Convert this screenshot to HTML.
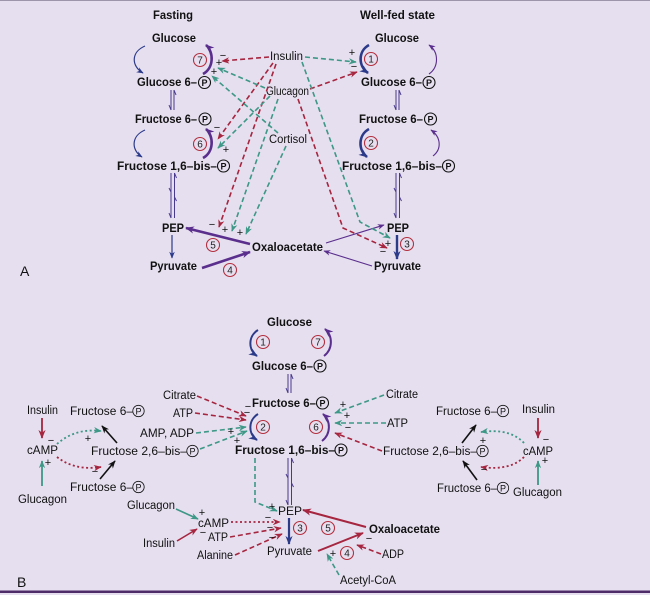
<!DOCTYPE html>
<html><head><meta charset="utf-8"><style>
html,body{margin:0;padding:0;background:#e6dfef;}
svg{display:block;}
text{font-family:"Liberation Sans",Arial,sans-serif;fill:#111;}
.b{font-weight:bold;font-size:11.5px;}
.r{font-size:11.5px;}
.pt{font-size:9px;font-weight:bold;text-anchor:middle;}
.ptr{font-size:9px;text-anchor:middle;}
.pc{fill:none;stroke:#111;stroke-width:1.1;}
.pcr{fill:none;stroke:#111;stroke-width:0.8;}
.nc{fill:none;stroke:#b3303f;stroke-width:1.1;}
.nt{font-size:10px;text-anchor:middle;fill:#222;}
.sg{font-size:11px;text-anchor:middle;fill:#111;}
.dr{fill:none;stroke:#a6253f;stroke-width:1.6;stroke-dasharray:5,3;}
.dt{fill:none;stroke:#3d9887;stroke-width:1.6;stroke-dasharray:5,3;}
.or{fill:none;stroke:#a6253f;stroke-width:1.8;stroke-dasharray:2,2.5;}
.ot{fill:none;stroke:#3d9887;stroke-width:1.8;stroke-dasharray:2,2.5;}
</style></head><body>
<svg width="650" height="595" viewBox="0 0 650 595" xmlns="http://www.w3.org/2000/svg">
<defs>
<marker id="mR" viewBox="0 0 10 8" refX="9" refY="4" markerWidth="8" markerHeight="6.4" markerUnits="userSpaceOnUse" orient="auto"><path d="M0,0 L10,4 L0,8 L3,4 z" fill="#a6253f"/></marker>
<marker id="mT" viewBox="0 0 10 8" refX="9" refY="4" markerWidth="8" markerHeight="6.4" markerUnits="userSpaceOnUse" orient="auto"><path d="M0,0 L10,4 L0,8 L3,4 z" fill="#3d9887"/></marker>
<marker id="mN" viewBox="0 0 10 8" refX="9" refY="4" markerWidth="7" markerHeight="5.6" markerUnits="userSpaceOnUse" orient="auto"><path d="M0,0 L10,4 L0,8 L3,4 z" fill="#2c3a8a"/></marker>
<marker id="mNb" viewBox="0 0 10 8" refX="9" refY="4" markerWidth="9" markerHeight="7.2" markerUnits="userSpaceOnUse" orient="auto"><path d="M0,0 L10,4 L0,8 L3,4 z" fill="#2c3a8a"/></marker>
<marker id="mP" viewBox="0 0 10 8" refX="9" refY="4" markerWidth="7" markerHeight="5.6" markerUnits="userSpaceOnUse" orient="auto"><path d="M0,0 L10,4 L0,8 L3,4 z" fill="#5a2e8c"/></marker>
<marker id="mPb" viewBox="0 0 10 8" refX="9" refY="4" markerWidth="9" markerHeight="7.2" markerUnits="userSpaceOnUse" orient="auto"><path d="M0,0 L10,4 L0,8 L3,4 z" fill="#5a2e8c"/></marker>
<marker id="mRb" viewBox="0 0 10 8" refX="9" refY="4" markerWidth="9" markerHeight="7.2" markerUnits="userSpaceOnUse" orient="auto"><path d="M0,0 L10,4 L0,8 L3,4 z" fill="#a6253f"/></marker>
<marker id="mK" viewBox="0 0 10 8" refX="9" refY="4" markerWidth="8" markerHeight="6.4" markerUnits="userSpaceOnUse" orient="auto"><path d="M0,0 L10,4 L0,8 L3,4 z" fill="#111"/></marker>
</defs>
<rect x="0" y="0" width="650" height="595" fill="#e6dfef"/>
<line x1="0" y1="0.5" x2="650" y2="0.5" stroke="#9d96ab" stroke-width="1"/>
<rect x="0" y="590.5" width="650" height="2.5" fill="#4d2c68"/>

<!-- ============ PANEL A ============ -->
<text x="153" y="19" class="b" textLength="40" lengthAdjust="spacingAndGlyphs">Fasting</text>
<text x="360" y="19" class="b" textLength="75" lengthAdjust="spacingAndGlyphs">Well-fed state</text>

<!-- left column -->
<text x="152" y="42" class="b" textLength="44" lengthAdjust="spacingAndGlyphs">Glucose</text>
<text x="137" y="86" class="b" textLength="60" lengthAdjust="spacingAndGlyphs">Glucose 6–</text>
<circle cx="204.5" cy="82.5" r="6" class="pc"/><text x="204.5" y="86" class="pt">P</text>
<text x="135" y="123" class="b" textLength="62" lengthAdjust="spacingAndGlyphs">Fructose 6–</text>
<circle cx="205" cy="119" r="6" class="pc"/><text x="205" y="122.5" class="pt">P</text>
<text x="117" y="170" class="b" textLength="100" lengthAdjust="spacingAndGlyphs">Fructose 1,6–bis–</text>
<circle cx="223.5" cy="166" r="6" class="pc"/><text x="223.5" y="169.5" class="pt">P</text>
<text x="162" y="232" class="b" textLength="22" lengthAdjust="spacingAndGlyphs">PEP</text>
<text x="150" y="270" class="b" textLength="47" lengthAdjust="spacingAndGlyphs">Pyruvate</text>
<text x="252" y="251" class="b" textLength="71" lengthAdjust="spacingAndGlyphs">Oxaloacetate</text>
<text x="20" y="276" style="font-size:14px">A</text>

<!-- left arcs -->
<path d="M145,46 C131,52 131,66 143,73" fill="none" stroke="#2c3a8a" stroke-width="1.2" marker-end="url(#mN)"/>
<path d="M203,74 C214,68 214,52 206,45" fill="none" stroke="#5a2e8c" stroke-width="2.6" marker-end="url(#mPb)"/>
<path d="M145,130 C131,136 131,150 142,157" fill="none" stroke="#2c3a8a" stroke-width="1.2" marker-end="url(#mN)"/>
<path d="M203,158 C214,152 214,136 206,129" fill="none" stroke="#5a2e8c" stroke-width="2.6" marker-end="url(#mPb)"/>
<!-- equilibrium -->
<g stroke="#4a3a8e" stroke-width="1" fill="none">
<line x1="171" y1="90" x2="171" y2="110"/><path d="M171,110 L169,105"/>
<line x1="174" y1="110" x2="174" y2="90"/><path d="M174,90 L176,95"/>
<line x1="171" y1="173" x2="171" y2="218"/><path d="M171,218 L169,213"/><path d="M171,192 L169,188"/>
<line x1="174.5" y1="218" x2="174.5" y2="173"/><path d="M174.5,173 L176.5,178"/><path d="M174.5,197 L176.5,201"/>
</g>
<line x1="172" y1="235" x2="172" y2="258" stroke="#2c3a8a" stroke-width="1.2" marker-end="url(#mN)"/>
<line x1="250" y1="244" x2="186" y2="228" stroke="#5a2e8c" stroke-width="2.6" marker-end="url(#mPb)"/>
<line x1="202" y1="268" x2="250" y2="252" stroke="#5a2e8c" stroke-width="2.6" marker-end="url(#mPb)"/>

<!-- numbers left -->
<circle cx="200" cy="60" r="6.5" class="nc"/><text x="200" y="63.5" class="nt">7</text>
<circle cx="200" cy="144" r="6.5" class="nc"/><text x="200" y="147.5" class="nt">6</text>
<circle cx="213" cy="245" r="6.5" class="nc"/><text x="213" y="248.5" class="nt">5</text>
<circle cx="230" cy="270" r="6.5" class="nc"/><text x="230" y="273.5" class="nt">4</text>

<!-- right column -->
<text x="375" y="42" class="b" textLength="44" lengthAdjust="spacingAndGlyphs">Glucose</text>
<text x="361" y="86" class="b" textLength="61" lengthAdjust="spacingAndGlyphs">Glucose 6–</text>
<circle cx="429" cy="82.5" r="6" class="pc"/><text x="429" y="86" class="pt">P</text>
<text x="359" y="123" class="b" textLength="64" lengthAdjust="spacingAndGlyphs">Fructose 6–</text>
<circle cx="430.5" cy="119" r="6" class="pc"/><text x="430.5" y="122.5" class="pt">P</text>
<text x="342" y="170" class="b" textLength="100" lengthAdjust="spacingAndGlyphs">Fructose 1,6–bis–</text>
<circle cx="448.5" cy="166" r="6" class="pc"/><text x="448.5" y="169.5" class="pt">P</text>
<text x="387" y="232" class="b" textLength="22" lengthAdjust="spacingAndGlyphs">PEP</text>
<text x="374" y="270" class="b" textLength="47" lengthAdjust="spacingAndGlyphs">Pyruvate</text>

<path d="M369,45 C358,51 358,66 368,73" fill="none" stroke="#2c3a8a" stroke-width="2.6" marker-end="url(#mNb)"/>
<path d="M429,74 C439,67 439,52 429,45" fill="none" stroke="#5a2e8c" stroke-width="1.1" marker-end="url(#mP)"/>
<path d="M369,129 C358,135 358,150 367,157" fill="none" stroke="#2c3a8a" stroke-width="2.6" marker-end="url(#mNb)"/>
<path d="M433,156 C442,149 441,137 431,130" fill="none" stroke="#5a2e8c" stroke-width="1.1" marker-end="url(#mP)"/>
<g stroke="#4a3a8e" stroke-width="1" fill="none">
<line x1="396" y1="90" x2="396" y2="110"/><path d="M396,110 L394,105"/>
<line x1="399" y1="110" x2="399" y2="90"/><path d="M399,90 L401,95"/>
<line x1="396" y1="173" x2="396" y2="218"/><path d="M396,218 L394,213"/><path d="M396,192 L394,188"/>
<line x1="399.5" y1="218" x2="399.5" y2="173"/><path d="M399.5,173 L401.5,178"/><path d="M399.5,197 L401.5,201"/>
</g>
<line x1="397" y1="235" x2="397" y2="259" stroke="#2c3a8a" stroke-width="2.4" marker-end="url(#mNb)"/>
<line x1="326" y1="243" x2="384" y2="225" stroke="#5a2e8c" stroke-width="1.1" marker-end="url(#mP)"/>
<line x1="372" y1="266" x2="324" y2="251" stroke="#5a2e8c" stroke-width="1.1" marker-end="url(#mP)"/>

<circle cx="371" cy="59" r="6.5" class="nc"/><text x="371" y="62.5" class="nt">1</text>
<circle cx="371" cy="143" r="6.5" class="nc"/><text x="371" y="146.5" class="nt">2</text>
<circle cx="407" cy="244" r="6.5" class="nc"/><text x="407" y="247.5" class="nt">3</text>

<!-- regulators A -->
<text x="270" y="60" class="r" textLength="33" lengthAdjust="spacingAndGlyphs">Insulin</text>
<text x="266" y="95" class="r" textLength="43" lengthAdjust="spacingAndGlyphs">Glucagon</text>
<text x="269" y="143" class="r" textLength="38" lengthAdjust="spacingAndGlyphs">Cortisol</text>

<!-- red dashed A -->
<path d="M269,57 L222,61" class="dr" marker-end="url(#mR)"/>
<path d="M273,63 L218,139" class="dr" marker-end="url(#mR)"/>
<path d="M276,64 L219,227" class="dr" marker-end="url(#mR)"/>
<path d="M310,89 L357,72" class="dr" marker-end="url(#mR)"/>
<path d="M298,99 L343,228 L387,248" class="dr" marker-end="url(#mR)"/>
<!-- teal dashed A -->
<path d="M305,57 L356,62" class="dt" marker-end="url(#mT)"/>
<path d="M265,88 L218,68" class="dt" marker-end="url(#mT)"/>
<path d="M278,133 L212,76" class="dt" marker-end="url(#mT)"/>
<path d="M270,96 L218,148" class="dt" marker-end="url(#mT)"/>
<path d="M278,99 L232,231" class="dt" marker-end="url(#mT)"/>
<path d="M286,146 L246,234" class="dt" marker-end="url(#mT)"/>
<path d="M302,62 L360,222 L390,238" class="dt" marker-end="url(#mT)"/>
<!-- signs A -->
<text x="223" y="59" class="sg">−</text>
<text x="219" y="66" class="sg">+</text>
<text x="214" y="75" class="sg">+</text>
<text x="217" y="131" class="sg">−</text>
<text x="226" y="153" class="sg">+</text>
<text x="212" y="228" class="sg">−</text>
<text x="225" y="233" class="sg">+</text>
<text x="240" y="236" class="sg">+</text>
<text x="352" y="56" class="sg">+</text>
<text x="354" y="70" class="sg">−</text>
<text x="388" y="247" class="sg">+</text>
<text x="383" y="255" class="sg">−</text>

<!-- ============ PANEL B ============ -->
<text x="267" y="326" class="b" textLength="45" lengthAdjust="spacingAndGlyphs">Glucose</text>
<text x="252" y="370" class="b" textLength="61" lengthAdjust="spacingAndGlyphs">Glucose 6–</text>
<circle cx="320" cy="366" r="6" class="pc"/><text x="320" y="369.5" class="pt">P</text>
<text x="252" y="407" class="b" textLength="64" lengthAdjust="spacingAndGlyphs">Fructose 6–</text>
<circle cx="322.5" cy="403" r="6" class="pc"/><text x="322.5" y="406.5" class="pt">P</text>
<text x="235" y="454" class="b" textLength="100" lengthAdjust="spacingAndGlyphs">Fructose 1,6–bis–</text>
<circle cx="341" cy="450" r="6" class="pc"/><text x="341" y="453.5" class="pt">P</text>
<text x="278" y="515" class="r" textLength="24" lengthAdjust="spacingAndGlyphs">PEP</text>
<text x="267" y="555" class="r" textLength="45" lengthAdjust="spacingAndGlyphs">Pyruvate</text>
<text x="369" y="533" class="b" textLength="71" lengthAdjust="spacingAndGlyphs">Oxaloacetate</text>
<text x="17" y="587" style="font-size:14px">B</text>

<path d="M258,330 C248,336 248,350 257,356" fill="none" stroke="#2c3a8a" stroke-width="2" marker-end="url(#mNb)"/>
<path d="M324,356 C333,349 333,336 325,329" fill="none" stroke="#5a2e8c" stroke-width="2" marker-end="url(#mPb)"/>
<path d="M258,414 C248,420 248,434 257,440" fill="none" stroke="#2c3a8a" stroke-width="2" marker-end="url(#mNb)"/>
<path d="M322,441 C331,434 331,421 323,414" fill="none" stroke="#5a2e8c" stroke-width="2" marker-end="url(#mPb)"/>
<g stroke="#4a3a8e" stroke-width="1" fill="none">
<line x1="288" y1="374" x2="288" y2="393"/><path d="M288,393 L286,388"/>
<line x1="291" y1="393" x2="291" y2="374"/><path d="M291,374 L293,379"/>
<line x1="288" y1="458" x2="288" y2="505"/><path d="M288,505 L286,500"/><path d="M288,478 L286,474"/>
<line x1="291.5" y1="505" x2="291.5" y2="458"/><path d="M291.5,458 L293.5,463"/><path d="M291.5,483 L293.5,487"/>
</g>
<line x1="289" y1="518" x2="289" y2="544" stroke="#2c3a8a" stroke-width="2.2" marker-end="url(#mNb)"/>
<line x1="366" y1="527" x2="303" y2="510" stroke="#a6253f" stroke-width="2" marker-end="url(#mRb)"/>
<line x1="318" y1="551" x2="363" y2="533" stroke="#a6253f" stroke-width="2" marker-end="url(#mRb)"/>

<circle cx="263" cy="342" r="6.5" class="nc"/><text x="263" y="345.5" class="nt">1</text>
<circle cx="318" cy="342" r="6.5" class="nc"/><text x="318" y="345.5" class="nt">7</text>
<circle cx="263" cy="427" r="6.5" class="nc"/><text x="263" y="430.5" class="nt">2</text>
<circle cx="316" cy="427" r="6.5" class="nc"/><text x="316" y="430.5" class="nt">6</text>
<circle cx="300" cy="528" r="6.5" class="nc"/><text x="300" y="531.5" class="nt">3</text>
<circle cx="328" cy="528" r="6.5" class="nc"/><text x="328" y="531.5" class="nt">5</text>
<circle cx="347" cy="553" r="6.5" class="nc"/><text x="347" y="556.5" class="nt">4</text>

<!-- B center-left effectors -->
<text x="163" y="399" class="r" textLength="33" lengthAdjust="spacingAndGlyphs">Citrate</text>
<text x="173" y="417" class="r" textLength="20" lengthAdjust="spacingAndGlyphs">ATP</text>
<text x="140" y="437" class="r" textLength="54" lengthAdjust="spacingAndGlyphs">AMP, ADP</text>
<text x="91" y="455" class="r" textLength="96" lengthAdjust="spacingAndGlyphs">Fructose 2,6–bis–</text>
<circle cx="192.5" cy="451" r="5.7" class="pcr"/><text x="192.5" y="454.5" class="ptr">P</text>
<path d="M197,396 L246,416" class="dr" marker-end="url(#mR)"/>
<path d="M195,413 L246,420" class="dr" marker-end="url(#mR)"/>
<path d="M196,433 L246,427" class="dt" marker-end="url(#mT)"/>
<path d="M200,449 L247,431" class="dt" marker-end="url(#mT)"/>
<text x="248" y="410" class="sg">−</text>
<text x="247" y="416" class="sg">−</text>
<text x="231" y="435" class="sg">+</text>
<text x="237" y="444" class="sg">+</text>

<!-- B center-right effectors -->
<text x="386" y="398" class="r" textLength="32" lengthAdjust="spacingAndGlyphs">Citrate</text>
<text x="387" y="427" class="r" textLength="21" lengthAdjust="spacingAndGlyphs">ATP</text>
<text x="383" y="455" class="r" textLength="94" lengthAdjust="spacingAndGlyphs">Fructose 2,6–bis–</text>
<circle cx="482.5" cy="451" r="5.7" class="pcr"/><text x="482.5" y="454.5" class="ptr">P</text>
<path d="M384,395 L335,413" class="dt" marker-end="url(#mT)"/>
<path d="M386,423 L335,423" class="dt" marker-end="url(#mT)"/>
<path d="M382,451 L335,433" class="dr" marker-end="url(#mR)"/>
<text x="343" y="408" class="sg">+</text>
<text x="347" y="419" class="sg">+</text>
<text x="348" y="431" class="sg">−</text>

<!-- B far left -->
<text x="27" y="414" class="r" textLength="31" lengthAdjust="spacingAndGlyphs">Insulin</text>
<text x="27" y="454" class="r" textLength="31" lengthAdjust="spacingAndGlyphs">cAMP</text>
<text x="18" y="503" class="r" textLength="49" lengthAdjust="spacingAndGlyphs">Glucagon</text>
<text x="70" y="415" class="r" textLength="63" lengthAdjust="spacingAndGlyphs">Fructose 6–</text>
<circle cx="138.5" cy="411" r="5.7" class="pcr"/><text x="138.5" y="414.5" class="ptr">P</text>
<text x="70" y="491" class="r" textLength="63" lengthAdjust="spacingAndGlyphs">Fructose 6–</text>
<circle cx="138.5" cy="487" r="5.7" class="pcr"/><text x="138.5" y="490.5" class="ptr">P</text>
<line x1="42" y1="418" x2="42" y2="438" stroke="#a6253f" stroke-width="1.8" marker-end="url(#mRb)"/>
<line x1="42" y1="486" x2="42" y2="461" stroke="#3d9887" stroke-width="1.8" marker-end="url(#mT)"/>
<text x="51" y="444" class="sg">−</text>
<text x="48" y="466" class="sg">+</text>
<path d="M57,444 Q75,428 101,431" class="ot" marker-end="url(#mT)"/>
<path d="M57,457 Q75,471 101,467" class="or" marker-end="url(#mR)"/>
<text x="88" y="442" class="sg">+</text>
<text x="95" y="475" class="sg">−</text>
<line x1="117" y1="443" x2="102" y2="426" stroke="#111" stroke-width="1.6" marker-end="url(#mK)"/>
<line x1="100" y1="479" x2="115" y2="461" stroke="#111" stroke-width="1.6" marker-end="url(#mK)"/>

<!-- B far right -->
<text x="522" y="413" class="r" textLength="33" lengthAdjust="spacingAndGlyphs">Insulin</text>
<text x="523" y="455" class="r" textLength="30" lengthAdjust="spacingAndGlyphs">cAMP</text>
<text x="513" y="496" class="r" textLength="49" lengthAdjust="spacingAndGlyphs">Glucagon</text>
<text x="436" y="415" class="r" textLength="61" lengthAdjust="spacingAndGlyphs">Fructose 6–</text>
<circle cx="503" cy="411" r="5.7" class="pcr"/><text x="503" y="414.5" class="ptr">P</text>
<text x="437" y="492" class="r" textLength="60" lengthAdjust="spacingAndGlyphs">Fructose 6–</text>
<circle cx="503" cy="488" r="5.7" class="pcr"/><text x="503" y="491.5" class="ptr">P</text>
<line x1="538" y1="418" x2="538" y2="438" stroke="#a6253f" stroke-width="1.8" marker-end="url(#mRb)"/>
<line x1="538" y1="485" x2="538" y2="461" stroke="#3d9887" stroke-width="1.8" marker-end="url(#mT)"/>
<text x="546" y="443" class="sg">−</text>
<text x="545" y="464" class="sg">+</text>
<path d="M524,443 Q510,428 481,432" class="ot" marker-end="url(#mT)"/>
<path d="M524,457 Q510,471 481,467" class="or" marker-end="url(#mR)"/>
<text x="483" y="444" class="sg">+</text>
<text x="484" y="473" class="sg">−</text>
<line x1="462" y1="443" x2="476" y2="425" stroke="#111" stroke-width="1.6" marker-end="url(#mK)"/>
<line x1="477" y1="480" x2="463" y2="461" stroke="#111" stroke-width="1.6" marker-end="url(#mK)"/>

<!-- B bottom effectors -->
<text x="127" y="509" class="r" textLength="48" lengthAdjust="spacingAndGlyphs">Glucagon</text>
<text x="143" y="547" class="r" textLength="32" lengthAdjust="spacingAndGlyphs">Insulin</text>
<text x="198" y="527" class="r" textLength="31" lengthAdjust="spacingAndGlyphs">cAMP</text>
<text x="208" y="541" class="r" textLength="20" lengthAdjust="spacingAndGlyphs">ATP</text>
<text x="197" y="559" class="r" textLength="36" lengthAdjust="spacingAndGlyphs">Alanine</text>
<text x="382" y="558" class="r" textLength="22" lengthAdjust="spacingAndGlyphs">ADP</text>
<text x="340" y="584" class="r" textLength="56" lengthAdjust="spacingAndGlyphs">Acetyl-CoA</text>
<line x1="176" y1="509" x2="198" y2="519" stroke="#3d9887" stroke-width="1.6" marker-end="url(#mT)"/>
<line x1="177" y1="541" x2="197" y2="529" stroke="#a6253f" stroke-width="1.6" marker-end="url(#mR)"/>
<text x="202" y="516" class="sg">+</text>
<text x="203" y="536" class="sg">−</text>
<path d="M231,522 L280,522" class="or" marker-end="url(#mR)"/>
<path d="M230,537 L281,528" class="dr" marker-end="url(#mR)"/>
<path d="M235,555 L282,534" class="dr" marker-end="url(#mR)"/>
<text x="268" y="521" class="sg">−</text>
<text x="270" y="531" class="sg">−</text>
<text x="272" y="541" class="sg">−</text>
<path d="M255,458 L255,502 L277,511" class="dt" marker-end="url(#mT)"/>
<text x="272" y="510" class="sg">+</text>
<path d="M381,554 L357,545" class="dr" marker-end="url(#mR)"/>
<text x="369" y="542" class="sg">−</text>
<path d="M339,575 L327,554" class="dt" marker-end="url(#mT)"/>
<text x="333" y="557" class="sg">+</text>
</svg>
</body></html>
